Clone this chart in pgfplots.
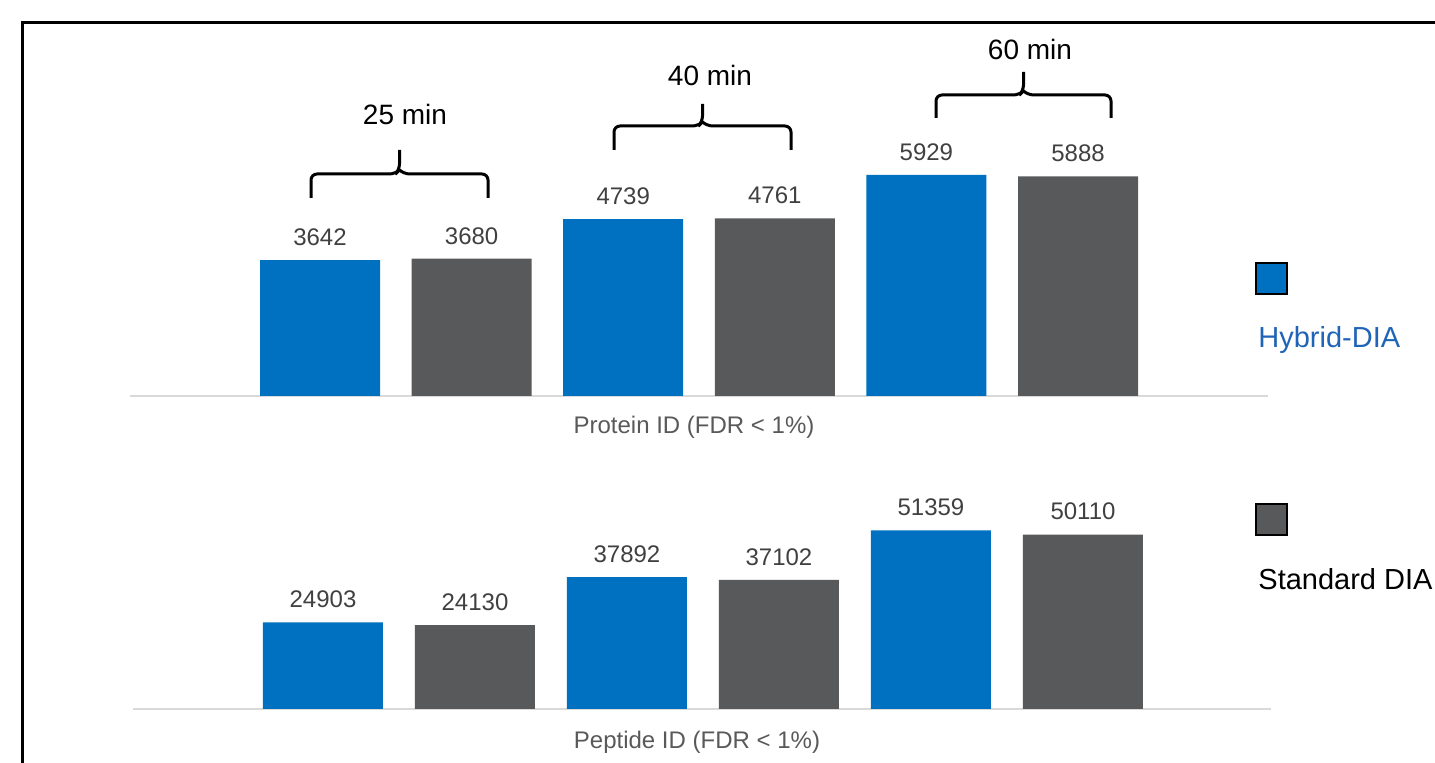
\documentclass[border=0pt]{standalone}
\usepackage{fontspec}
\setmainfont{Liberation Sans}
\usepackage{pgfplots}
\pgfplotsset{compat=1.18}
\definecolor{hblue}{HTML}{0070C0}
\definecolor{sgrey}{HTML}{58595B}
\definecolor{lblgrey}{HTML}{404040}
\definecolor{axlbl}{HTML}{595959}
\definecolor{axline}{HTML}{D9D9D9}
\definecolor{legblue}{HTML}{2064B8}
\pgfplotsset{
  panel/.style={
    scale only axis, width=569pt,
    ymin=0, xmin=-1.2533, xmax=6.2533,
    axis y line=none, axis x line*=bottom,
    x axis line style={draw=axline, line width=1pt, -},
    xtick=\empty, ytick=\empty,
    clip=false,
    ybar, bar width=60pt, bar shift=0pt,
    nodes near coords,
    every node near coord/.append style={/pgf/number format/1000 sep={}, /pgf/number format/assume math mode=true, font=\fontsize{12}{14}\selectfont, text=lblgrey, inner sep=0pt, yshift=7pt, anchor=south},
    xlabel style={font=\fontsize{12}{14}\selectfont, text=axlbl},
  }
}
\newcommand{\bracket}[5]{% left, right, yh, ybot, ytop (px)
  \pgfmathsetmacro{\cx}{(#1+#2)/2}
  \draw[line width=1.5pt, rounded corners=3pt] (#1,#4) -- (#1,#3) -- (\cx-4,#3) -- (\cx,#3-4) -- (\cx,#5);
  \draw[line width=1.5pt, rounded corners=3pt] (#2,#4) -- (#2,#3) -- (\cx+4,#3) -- (\cx,#3-4);
}
\begin{document}
\begin{tikzpicture}
\useasboundingbox (0,0) rectangle (717.5pt,381.5pt);
% top panel
\begin{axis}[panel, at={(65pt,183.5pt)}, anchor=south west, height=118pt, ymax=6327,
  xlabel={Protein ID (FDR < 1\%)}, xlabel style={at={(axis description cs:0.4956,0)}, anchor=north, yshift=-6.5pt}]
\addplot[fill=hblue, draw=none] coordinates {(0,3642) (2,4739) (4,5929)};
\addplot[fill=sgrey, draw=none] coordinates {(1,3680) (3,4761) (5,5888)};
\end{axis}
% bottom panel
\begin{axis}[panel, at={(66.5pt,27pt)}, anchor=south west, height=100pt, ymax=57471, xmin=-1.25, xmax=6.237,
  xlabel={Peptide ID (FDR < 1\%)}, xlabel style={at={(axis description cs:0.4956,0)}, anchor=north, yshift=-7.5pt}]
\addplot[fill=hblue, draw=none] coordinates {(0,24903) (2,37892) (4,51359)};
\addplot[fill=sgrey, draw=none] coordinates {(1,24130) (3,37102) (5,50110)};
\end{axis}
\begin{scope}[x=0.5pt, y=-0.5pt, yshift=381.5pt]
  % frame
  \draw[line width=1.5pt] (22,770) -- (22,23) -- (1445,23);
  % brackets
  \bracket{311}{488}{174}{198}{150}
  \bracket{614}{791}{126}{150}{104}
  \bracket{936}{1111}{95}{118}{72}
  \node[font=\fontsize{14}{16}\selectfont] at (405,115) {25 min};
  \node[font=\fontsize{14}{16}\selectfont] at (710,76) {40 min};
  \node[font=\fontsize{14}{16}\selectfont] at (1030,50) {60 min};
  % legend
  \filldraw[fill=hblue, draw=black, line width=1pt] (1256,263) rectangle (1287,294);
  \filldraw[fill=sgrey, draw=black, line width=1pt] (1256,504) rectangle (1287,535);
  \node[font=\fontsize{14.5}{16}\selectfont, text=legblue, anchor=west, inner sep=0pt] at (1258,340) {Hybrid-DIA};
  \node[font=\fontsize{14.5}{16}\selectfont, anchor=west, inner sep=0pt] at (1258,579) {Standard DIA};
\end{scope}
\end{tikzpicture}
\end{document}
